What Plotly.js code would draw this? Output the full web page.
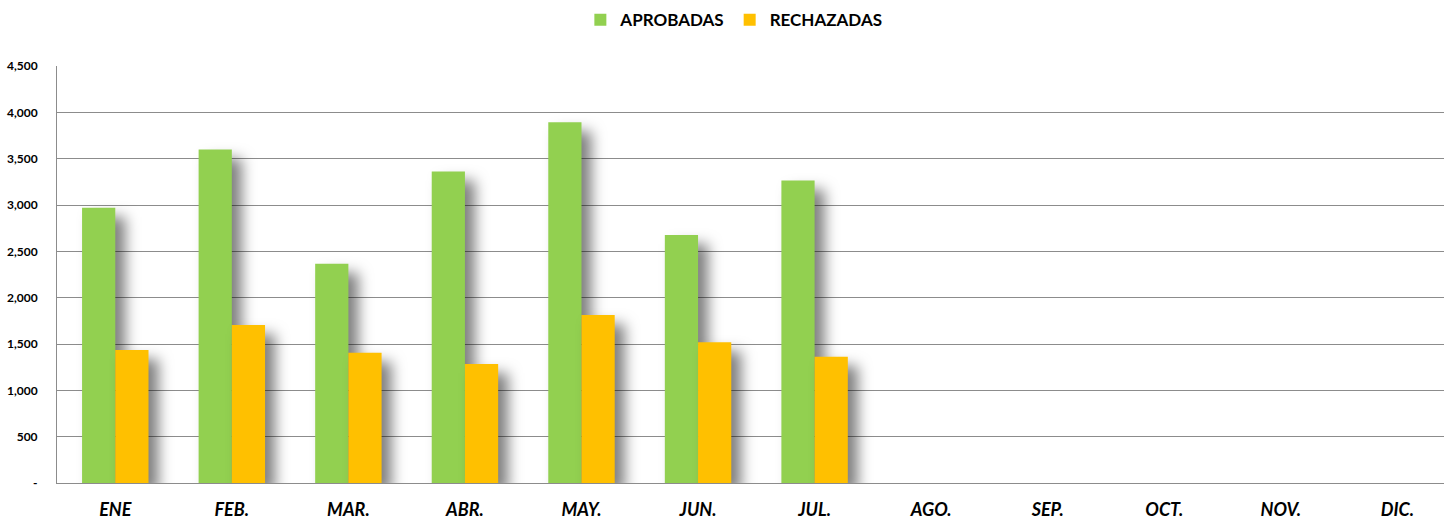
<!DOCTYPE html>
<html>
<head>
<meta charset="utf-8">
<script src="https://cdn.plot.ly/plotly-3.0.1.min.js"></script>
<style>
html,body{margin:0;padding:0;background:#fff;}
#chart{width:1444px;height:519px;}
.barlayer .point path{filter:drop-shadow(10px 9px 7px rgba(0,0,0,0.5));}
</style>
</head>
<body>
<div id="chart"></div>
<script>
var months = ["ENE","FEB.","MAR.","ABR.","MAY.","JUN.","JUL.","AGO.","SEP.","OCT.","NOV.","DIC."];
var aprobadas = [2970, 3600, 2365, 3362, 3893, 2675, 3265, null, null, null, null, null];
var rechazadas = [1435, 1705, 1405, 1285, 1812, 1520, 1362, null, null, null, null, null];
var yTickVals = [0, 500, 1000, 1500, 2000, 2500, 3000, 3500, 4000, 4500];
var yTickText = ["-", "500", "1,000", "1,500", "2,000", "2,500", "3,000", "3,500", "4,000", "4,500"];

var data = [
  {type:"bar", name:"APROBADAS", x:months, y:aprobadas, marker:{color:"#92D050"}},
  {type:"bar", name:"RECHAZADAS", x:months, y:rechazadas, marker:{color:"#FFC000"}}
];
var layout = {
  width:1444, height:519,
  margin:{l:57, r:0, t:66, b:36},
  paper_bgcolor:"#fff", plot_bgcolor:"#fff",
  barmode:"group", bargap:0.43, bargroupgap:0,
  showlegend:true,
  legend:{orientation:"h", x:0.488, xanchor:"center", y:1.11, yanchor:"middle",
          font:{family:"Lato, 'Open Sans', sans-serif", size:17, color:"#000", weight:"bold"},
          traceorder:"normal", itemwidth:30},
  xaxis:{range:[-0.5, 11.4], showgrid:false, showline:true, linecolor:"#8c8c8c", linewidth:1,
         ticks:"", tickfont:{family:"Lato, 'Open Sans', sans-serif", size:18, color:"#000", weight:"bold", style:"italic"},
         ticklabelstandoff:10, zeroline:false, fixedrange:true},
  yaxis:{range:[0,4500], tickvals:yTickVals, ticktext:yTickText, showgrid:true, gridcolor:"#8c8c8c", gridwidth:1,
         showline:true, linecolor:"#8c8c8c", linewidth:1, ticks:"", zeroline:false,
         tickfont:{family:"Lato, 'Open Sans', sans-serif", size:12, color:"#000", weight:"bold"},
         ticklabelstandoff:16, fixedrange:true}
};
Plotly.newPlot("chart", data, layout, {displayModeBar:false, staticPlot:true});
</script>
</body>
</html>
